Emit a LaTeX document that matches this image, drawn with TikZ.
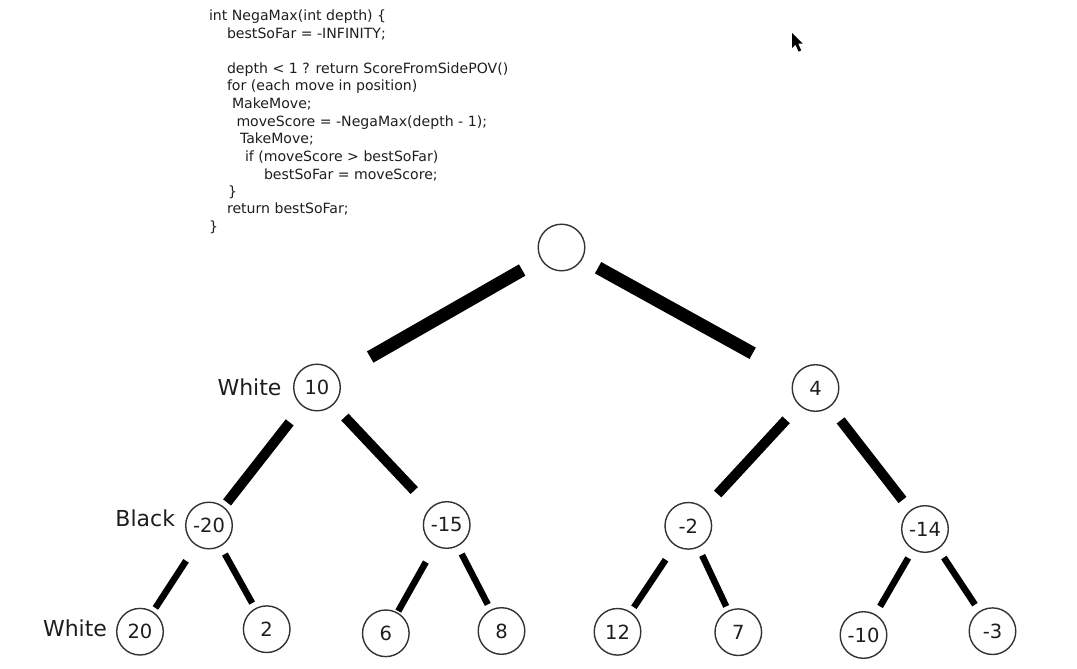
\documentclass[tikz,border=0pt]{standalone}
\usepackage{fontspec}
\setmainfont{DejaVu Sans}
\usetikzlibrary{calc}
\definecolor{ink}{HTML}{1E1E1E}
\definecolor{ring}{HTML}{333333}
\begin{document}
\begin{tikzpicture}[x=1pt,y=-1pt,
  every node/.style={inner sep=0pt, outer sep=0pt},
  val/.style={circle, draw=ring, line width=1.4pt, minimum size=46.6pt,
    font=\fontsize{19.5}{21}\selectfont, text=ink},
  side/.style={anchor=base east, font=\fontsize{22}{24}\selectfont, text=ink},
  code/.style={anchor=base west, font=\fontsize{14.1}{16}\selectfont, text=ink},
  bar/.style={draw=black, line width=#1, line cap=butt}
]
\useasboundingbox (0,0) rectangle (1077,669);

% pseudo-code listing
\node[code] (c1)  at (209,20.5)  {int NegaMax(int depth) \{};
\node[code] (c2)  at (227,38.3)  {bestSoFar = -INFINITY;};
\node[code] (c3)  at (227,73.3)  {depth < 1 ? return ScoreFromSidePOV()};
\node[code] (c4)  at (227,90.7)  {for (each move in position)};
\node[code] (c5)  at (232,108.3) {MakeMove;};
\node[code] (c6)  at (236.5,126) {moveScore = -NegaMax(depth - 1);};
\node[code] (c7)  at (240,143.5) {TakeMove;};
\node[code] (c8)  at (245,161)   {if (moveScore > bestSoFar)};
\node[code] (c9)  at (264,179)   {bestSoFar = moveScore;};
\node[code] (c10) at (228,196.5) {\}};
\node[code] (c11) at (227,213.5) {return bestSoFar;};
\node[code] (c12) at (209,231)   {\}};

% pointer
\fill[black] (792,33) -- (792,48) -- (795.5,44.6) -- (798.6,51.6) -- (801.2,50.4)
  -- (798.2,43.6) -- (802.6,43.6) -- cycle;

% game tree
\node[val] (root) at (561.5,247.5) {};
\node[val] (a)  at (317,387.5)   {10};
\node[val] (b)  at (815.5,388)   {4};
\node[val] (aa) at (209,525.5)   {-20};
\node[val] (ab) at (446.7,525)   {-15};
\node[val] (ba) at (688.3,525.8) {-2};
\node[val] (bb) at (925,529)     {-14};
\node[val] (aaa) at (140,631.7)   {20};
\node[val] (aab) at (266.7,629.2) {2};
\node[val] (aba) at (385.8,633.3) {6};
\node[val] (abb) at (501.5,631)   {8};
\node[val] (baa) at (617.5,631.8) {12};
\node[val] (bab) at (738.3,632.2) {7};
\node[val] (bba) at (863.5,635)   {-10};
\node[val] (bbb) at (992.5,631.2) {-3};

% side-to-move labels
\node[side] (s1) at (281.5,395.7) {White};
\node[side] (s2) at (175,526.7) {Black};
\node[side] (s3) at (107,636.7) {White};

% branches
\draw[bar=13pt, shorten <=22pt, shorten >=38pt] (root) -- (a);
\draw[bar=13pt, shorten <=18.5pt, shorten >=48.5pt] (root) -- (b);
\draw[bar=10pt, shorten <=21pt, shorten >=6pt] (a) -- (aa);
\draw[bar=10pt, shorten <=17.3pt, shorten >=24pt] (a) -- (ab);
\draw[bar=10pt, shorten <=20pt, shorten >=20pt] (b) -- (ba);
\draw[bar=10pt, shorten <=17.7pt, shorten >=13.4pt] (b) -- (bb);
\draw[bar=6.5pt, shorten <=18.8pt, shorten >=5pt] (aa) -- (aaa);
\draw[bar=6.5pt, shorten <=9.4pt, shorten >=6.6pt] (aa) -- (aab);
\draw[bar=6.5pt, shorten <=19.2pt, shorten >=2.2pt] (ab) -- (aba);
\draw[bar=6.5pt, shorten <=9.3pt, shorten >=6.6pt] (ab) -- (abb);
\draw[bar=6.5pt, shorten <=17.5pt, shorten >=6.2pt] (ba) -- (baa);
\draw[bar=6.5pt, shorten <=9.4pt, shorten >=5.2pt] (ba) -- (bab);
\draw[bar=6.5pt, shorten <=10.2pt, shorten >=9.7pt] (bb) -- (bba);
\draw[bar=6.5pt, shorten <=10.9pt, shorten >=8.5pt] (bb) -- (bbb);
\end{tikzpicture}
\end{document}
